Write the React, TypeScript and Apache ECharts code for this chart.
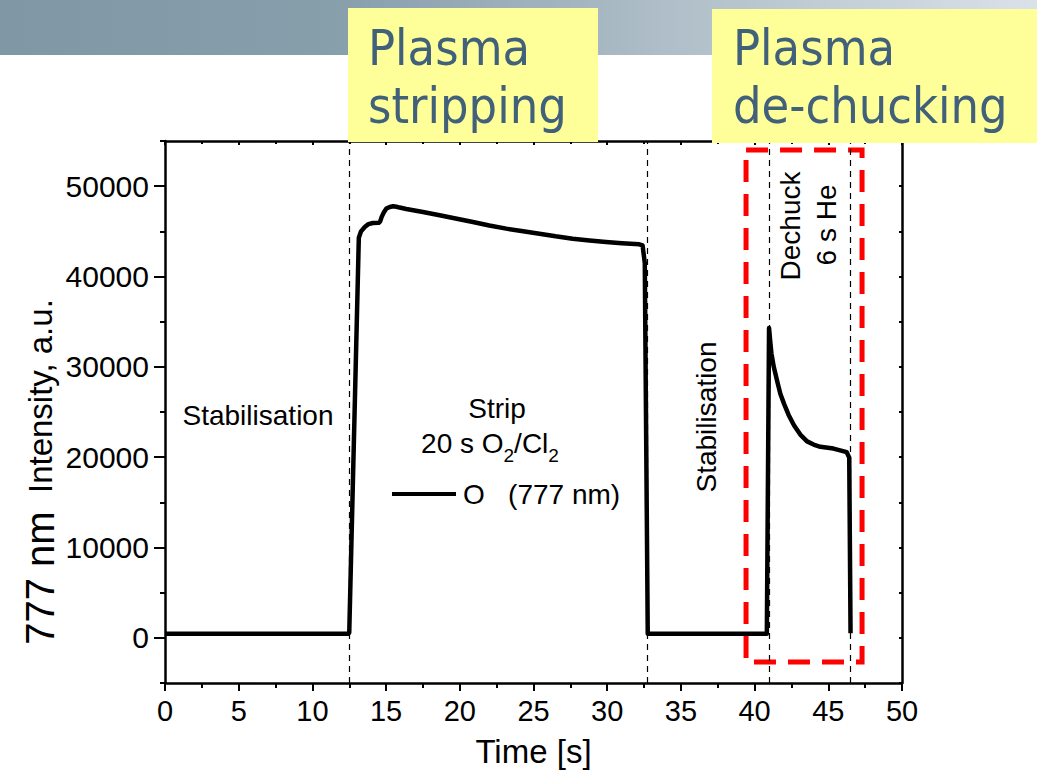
import React, { useEffect, useRef } from "react";
import * as echarts from "echarts";

// ---- data ----
const timeS = [
  0, 2, 4, 6, 8, 10, 12.45, 12.5, 13.15, 13.3, 13.55, 13.8, 14.1, 14.5, 14.6, 14.7, 14.85, 15.02,
  15.25, 15.47, 15.7, 15.92, 16.37, 17.5, 18.63, 19.8, 20.89, 22.0, 23.15, 24.3, 25.4, 26.5, 27.66,
  28.8, 29.92, 31.0, 32.18, 32.4, 32.55, 32.75, 34, 36, 38, 40, 40.83, 40.98, 41.05, 41.14, 41.3,
  41.55, 41.75, 42.0, 42.3, 42.67, 43.1, 43.56, 44.0, 44.46, 45.35, 46.25, 46.42, 46.51,
];
const intensity = [
  450, 460, 450, 455, 450, 455, 450, 600, 44300, 45000, 45480, 45800, 45920, 45950, 46100, 46600,
  47100, 47520, 47700, 47780, 47720, 47630, 47480, 47150, 46780, 46400, 46040, 45650, 45300, 45000,
  44740, 44450, 44190, 43980, 43810, 43680, 43560, 43440, 41500, 450, 450, 455, 450, 450, 450, 34300,
  33000, 31500, 30000, 28300, 27000, 25900, 24700, 23540, 22500, 21750, 21400, 21150, 20950, 20550,
  19950, 500,
];
const seriesName = "O   (777 nm)";
const phaseBoundaries = [12.5, 32.75, 40.98, 46.5];
const dechuckBox = { x0: 39.42, x1: 47.29, y0: -2670, y1: 54000 };
const xTickLabels = [0, 5, 10, 15, 20, 25, 30, 35, 40, 45, 50];
const yMajorTicks = [0, 10000, 20000, 30000, 40000, 50000];
const yMinorTicks = [-5000, 5000, 15000, 25000, 35000, 45000, 55000];

const FONT = "'Liberation Sans', Arial, sans-serif";
const SLIDE_FONT = "'DejaVu Sans Condensed', 'DejaVu Sans', sans-serif";
const SLIDE_BLUE = "#41607a";

export default function App() {
  const ref = useRef<HTMLDivElement>(null);
  useEffect(() => {
    const chart = echarts.init(ref.current!, null, { renderer: "svg" });
    const data = timeS.map((t, i) => [t, intensity[i]]);
    const axisLine = { show: true, onZero: false, lineStyle: { color: "#000", width: 2.5 } };
    const tickStyle = { color: "#000", width: 2 };
    const yMin = -5000;
    const yMax = 55000;
    const option: any = {
      animation: false,
      textStyle: { fontFamily: FONT },
      grid: { left: 165, right: 135, top: 141, bottom: 90, containLabel: false, outerBoundsMode: "none" },
      legend: {
        show: true,
        left: 392,
        top: 480,
        padding: 0,
        itemWidth: 64,
        itemHeight: 4,
        itemGap: 6,
        icon: "rect",
        itemStyle: { color: "#000", borderWidth: 0 },
        textStyle: { fontSize: 28, color: "#000", fontFamily: FONT, padding: [0, 0, 0, 2] },
        data: [{ name: seriesName, icon: "rect" }],
      },
      xAxis: [
        {
          type: "value",
          position: "bottom",
          min: xTickLabels[0],
          max: xTickLabels[xTickLabels.length - 1],
          interval: 5,
          axisLine,
          axisTick: { show: true, length: 8, lineStyle: tickStyle },
          minorTick: { show: true, splitNumber: 2, length: 5, lineStyle: tickStyle },
          axisLabel: { color: "#000", fontSize: 29, margin: 13, fontFamily: FONT },
          splitLine: { show: false },
          name: "Time [s]",
          nameLocation: "middle",
          nameGap: 52,
          nameTextStyle: { fontSize: 33, color: "#000", fontFamily: FONT },
        },
        {
          type: "value",
          position: "top",
          min: 0,
          max: 50,
          interval: 5,
          axisLine,
          axisTick: { show: true, inside: true, length: 4, lineStyle: tickStyle },
          minorTick: { show: true, splitNumber: 2, length: 3, lineStyle: tickStyle },
          axisLabel: { show: false },
          splitLine: { show: false },
        },
      ],
      yAxis: [
        {
          type: "value",
          position: "left",
          min: yMin,
          max: yMax,
          interval: 5000,
          axisLine,
          axisTick: { show: true, length: 11, lineStyle: tickStyle, customValues: yMajorTicks },
          axisLabel: {
            color: "#000",
            fontSize: 30,
            margin: 16,
            customValues: yMajorTicks,
            fontFamily: FONT,
            formatter: (v: number) => String(v),
          },
          splitLine: { show: false },
        },
        {
          type: "value",
          position: "left",
          min: yMin,
          max: yMax,
          interval: 5000,
          axisLine: { show: false },
          axisTick: { show: true, length: 5, lineStyle: tickStyle, customValues: yMinorTicks },
          axisLabel: { show: false },
          splitLine: { show: false },
        },
        {
          type: "value",
          position: "right",
          min: yMin,
          max: yMax,
          interval: 5000,
          axisLine,
          axisTick: { show: true, inside: true, length: 3, lineStyle: tickStyle },
          axisLabel: { show: false },
          splitLine: { show: false },
        },
      ],
      series: [
        {
          type: "line",
          name: seriesName,
          xAxisIndex: 0,
          yAxisIndex: 0,
          data,
          symbol: "none",
          showSymbol: false,
          lineStyle: { color: "#000", width: 4.5, join: "round" },
          itemStyle: { color: "#000" },
          z: 3,
          markLine: {
            silent: true,
            symbol: ["none", "none"],
            label: { show: false },
            lineStyle: { color: "#000", width: 1.2, type: [6, 5] },
            data: phaseBoundaries.map((x) => ({ xAxis: x })),
          },
          markArea: {
            silent: true,
            itemStyle: {
              color: "rgba(0,0,0,0)",
              borderColor: "#ff0000",
              borderWidth: 5,
              borderType: [22, 12],
            },
            data: [[
              { xAxis: dechuckBox.x0, yAxis: dechuckBox.y1 },
              { xAxis: dechuckBox.x1, yAxis: dechuckBox.y0 },
            ]],
          },
        },
      ],
      graphic: [
        {
          type: "rect",
          z: 0,
          shape: { x: 0, y: 0, width: 1037, height: 55 },
          style: {
            fill: new echarts.graphic.LinearGradient(0, 0, 1, 0, [
              { offset: 0, color: "#8098a6" },
              { offset: 0.32, color: "#879eab" },
              { offset: 1, color: "#dbe1e8" },
            ]),
          },
        },
        { type: "rect", z: 100, shape: { x: 348, y: 8, width: 250, height: 134 }, style: { fill: "#ffff99" } },
        { type: "rect", z: 100, shape: { x: 712, y: 9, width: 325, height: 134 }, style: { fill: "#ffff99" } },
        { type: "text", z: 101, x: 368, y: 48, style: { text: "Plasma", font: `50px ${SLIDE_FONT}`, fill: SLIDE_BLUE, verticalAlign: "middle" } },
        { type: "text", z: 101, x: 368, y: 106, style: { text: "stripping", font: `50px ${SLIDE_FONT}`, fill: SLIDE_BLUE, verticalAlign: "middle" } },
        { type: "text", z: 101, x: 733, y: 48, style: { text: "Plasma", font: `50px ${SLIDE_FONT}`, fill: SLIDE_BLUE, verticalAlign: "middle" } },
        { type: "text", z: 101, x: 733, y: 106, style: { text: "de-chucking", font: `50px ${SLIDE_FONT}`, fill: SLIDE_BLUE, verticalAlign: "middle" } },
        // y-axis title
        {
          type: "text",
          z: 10,
          x: 40,
          y: 472,
          rotation: Math.PI / 2,
          style: {
            text: "{a|777 nm}  {b|Intensity, a.u.}",
            align: "center",
            verticalAlign: "middle",
            fill: "#000",
            rich: {
              a: { fontSize: 40, fontFamily: FONT, fill: "#000" },
              b: { fontSize: 33, fontFamily: FONT, fill: "#000" },
            },
            font: `33px ${FONT}`,
          },
        },
        // phase annotations
        { type: "text", z: 10, x: 258, y: 415, style: { text: "Stabilisation", font: `28px ${FONT}`, fill: "#000", align: "center", verticalAlign: "middle" } },
        { type: "text", z: 10, x: 497, y: 408, style: { text: "Strip", font: `28px ${FONT}`, fill: "#000", align: "center", verticalAlign: "middle" } },
        {
          type: "text",
          z: 10,
          x: 490,
          y: 443,
          style: {
            text: "{n|20 s O}{s|2}{n|/Cl}{s|2}",
            align: "center",
            verticalAlign: "middle",
            fill: "#000",
            rich: {
              n: { fontSize: 28, fontFamily: FONT, lineHeight: 44, fill: "#000" },
              s: { fontSize: 19, fontFamily: FONT, lineHeight: 44, verticalAlign: "bottom", fill: "#000" },
            },
            font: `28px ${FONT}`,
          },
        },
        { type: "text", z: 10, x: 706, y: 417, rotation: Math.PI / 2, style: { text: "Stabilisation", font: `28px ${FONT}`, fill: "#000", align: "center", verticalAlign: "middle" } },
        { type: "text", z: 10, x: 790, y: 226, rotation: Math.PI / 2, style: { text: "Dechuck", font: `28px ${FONT}`, fill: "#000", align: "center", verticalAlign: "middle" } },
        { type: "text", z: 10, x: 826, y: 225, rotation: Math.PI / 2, style: { text: "6 s He", font: `28px ${FONT}`, fill: "#000", align: "center", verticalAlign: "middle" } },
      ],
    };
    chart.setOption(option);
    return () => chart.dispose();
  }, []);
  return (
    <div
      ref={ref}
      style={{ position: "fixed", left: 0, top: 0, width: 1037, height: 773, background: "#fff" }}
    />
  );
}
